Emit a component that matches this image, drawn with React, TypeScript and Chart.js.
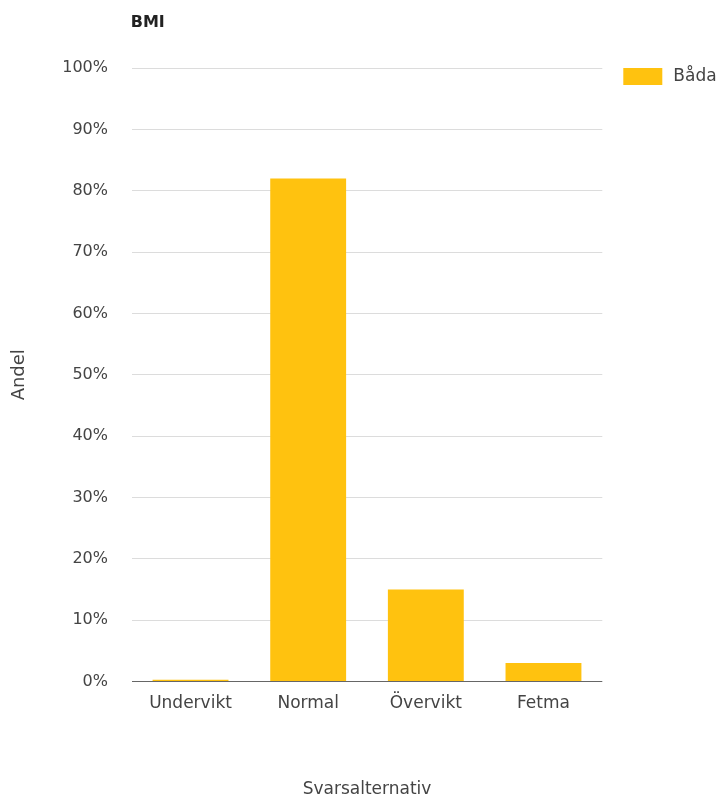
import React, { useEffect, useRef } from "react";
import { Chart, registerables } from "chart.js";

Chart.register(...registerables);

const categories = ["Undervikt", "Normal", "Övervikt", "Fetma"];
const seriesLabel = "Båda";
const seriesValues = [0.3, 82, 15, 3];
const yTicks = [0, 10, 20, 30, 40, 50, 60, 70, 80, 90, 100];
const chartTitle = "BMI";
const xTitle = "Svarsalternativ";
const yTitle = "Andel";

const BAR_COLOR = "#ffc20f";
const FONT = "'DejaVu Sans', 'Liberation Sans', Arial, sans-serif";

const decorPlugin = {
  id: "decor",
  afterDraw(chart: any) {
    const { ctx, chartArea } = chart;
    ctx.save();
    // title
    ctx.fillStyle = "#222";
    ctx.font = `bold 16px ${FONT}`;
    ctx.textAlign = "left";
    ctx.textBaseline = "middle";
    ctx.fillText(chartTitle, chartArea.left - 1, 23);
    // legend
    const ds = chart.data.datasets[0];
    const bx = chartArea.right + 21;
    const by = chartArea.top;
    ctx.fillStyle = ds.backgroundColor;
    ctx.fillRect(bx, by, 39, 17);
    ctx.fillStyle = "#444";
    ctx.font = `17px ${FONT}`;
    ctx.textBaseline = "middle";
    ctx.fillText(ds.label, bx + 50, by + 9);
    ctx.restore();
  },
};

export default function App() {
  const ref = useRef<HTMLCanvasElement | null>(null);

  useEffect(() => {
    document.body.style.margin = "0";
    const canvas = ref.current;
    if (!canvas) return;
    const chart = new Chart(canvas, {
      type: "bar",
      data: {
        labels: categories,
        datasets: [
          {
            label: seriesLabel,
            data: seriesValues,
            backgroundColor: BAR_COLOR,
            borderWidth: 0,
            categoryPercentage: 1,
            barPercentage: 0.645,
          },
        ],
      },
      options: {
        animation: false,
        responsive: false,
        maintainAspectRatio: false,
        layout: { padding: { top: 68, right: 117.7, left: 0, bottom: 0 } },
        plugins: {
          legend: { display: false },
          title: { display: false },
          tooltip: { enabled: false },
        },
        scales: {
          x: {
            grid: { display: false, drawTicks: false },
            border: { display: false },
            ticks: {
              color: "#444",
              font: { family: FONT, size: 17 },
              padding: 12,
              maxRotation: 0,
              autoSkip: false,
            },
            title: {
              display: true,
              text: xTitle,
              color: "#444",
              font: { family: FONT, size: 17 },
              padding: { top: 0, bottom: 1 },
            },
            afterFit(scale: any) {
              scale.height = 801 - 681.5;
            },
          },
          y: {
            min: 0,
            max: 100,
            afterBuildTicks(scale: any) {
              scale.ticks = yTicks.map((v) => ({ value: v }));
            },
            grid: {
              drawTicks: false,
              color: (c: any) => (c.tick && c.tick.value === 0 ? "#666" : "#dcdcdc"),
              lineWidth: 1,
            },
            border: { display: false },
            ticks: {
              color: "#444",
              font: { family: FONT, size: 16 },
              padding: 23.7,
              callback: (v: any) => `${v}%`,
            },
            title: {
              display: true,
              text: yTitle,
              color: "#444",
              font: { family: FONT, size: 18 },
              padding: { top: 9, bottom: 0 },
            },
            afterFit(scale: any) {
              scale.width = 131.7;
            },
          },
        },
      },
      plugins: [decorPlugin],
    } as any);
    return () => chart.destroy();
  }, []);

  return (
    <div style={{ width: 720, height: 801, background: "#fff" }}>
      <canvas ref={ref} width={720} height={801} style={{ display: "block", width: 720, height: 801 }} />
    </div>
  );
}
